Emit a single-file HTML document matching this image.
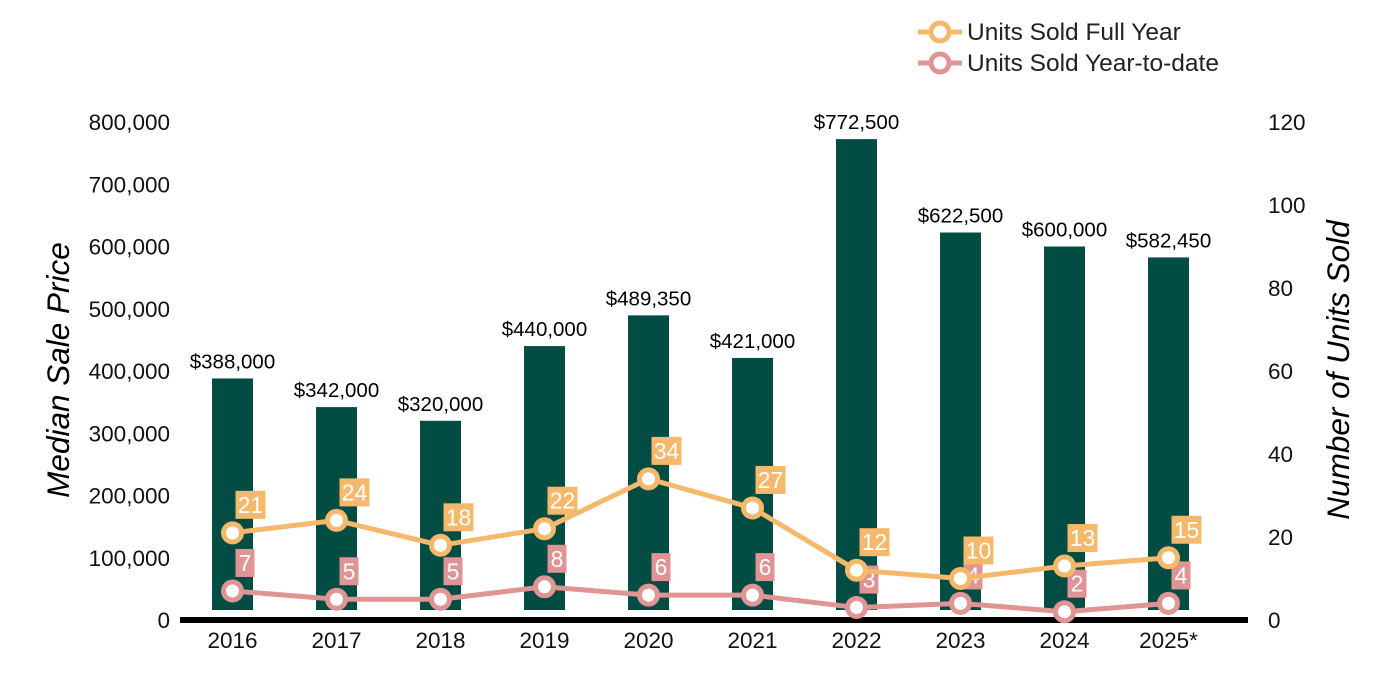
<!DOCTYPE html>
<html><head><meta charset="utf-8"><style>
html,body{margin:0;padding:0;background:#fff;}
svg{display:block;font-family:"Liberation Sans",Arial,sans-serif;}
</style></head><body>
<svg id="chart" width="1400" height="700" viewBox="0 0 1400 700" xmlns="http://www.w3.org/2000/svg">
<g id="legend">
  <g>
    <line x1="918" y1="32" x2="962" y2="32" stroke="#F6B86B" stroke-width="5"/>
    <circle cx="940" cy="32" r="9" fill="#fff" stroke="#F6B86B" stroke-width="5"/>
    <text x="967" y="40" font-size="24.5" fill="#222">Units Sold Full Year</text>
  </g>
  <g>
    <line x1="918" y1="63" x2="962" y2="63" stroke="#E09494" stroke-width="5"/>
    <circle cx="940" cy="63" r="9" fill="#fff" stroke="#E09494" stroke-width="5"/>
    <text x="967" y="71" font-size="24.5" fill="#222">Units Sold Year-to-date</text>
  </g>
</g>
<text transform="translate(69,370) rotate(-90)" text-anchor="middle" font-size="31.5" font-style="italic" fill="#000">Median Sale Price</text>
<text transform="translate(1349,370) rotate(-90)" text-anchor="middle" font-size="31.5" font-style="italic" fill="#000">Number of Units Sold</text>
<g id="left-ticks"></g>
<g id="right-ticks"></g>
<g id="bars"></g>
<line x1="180" y1="620" x2="1248" y2="620" stroke="#000" stroke-width="6"/>
<g id="xlabels"></g>
<g id="lines"></g>
</svg>
<script>
const years = ["2016","2017","2018","2019","2020","2021","2022","2023","2024","2025*"];
const prices = [388000,342000,320000,440000,489350,421000,772500,622500,600000,582450];
const fullYear = [21,24,18,22,34,27,12,10,13,15];
const ytd = [7,5,5,8,6,6,3,4,2,4];
const leftTicks = [0,100000,200000,300000,400000,500000,600000,700000,800000];
const rightTicks = [0,20,40,60,80,100,120];

const NS="http://www.w3.org/2000/svg";
const y0=620, yTop=122;
const yL=v=>y0-(v/800000)*(y0-yTop);
const yR=v=>y0-(v/120)*(y0-yTop);
const xC=i=>232.5+i*104;
function mk(tag,attrs,parent,text){const e=document.createElementNS(NS,tag);for(const k in attrs)e.setAttribute(k,attrs[k]);if(text!==undefined)e.textContent=text;parent.appendChild(e);return e;}
const fmt=n=>n.toLocaleString("en-US");

const lt=document.getElementById("left-ticks");
leftTicks.forEach(v=>{const t=mk("text",{x:170,y:yL(v)+8,"text-anchor":"end","font-size":22.5,fill:"#111"},lt,fmt(v));

});
const rt=document.getElementById("right-ticks");
rightTicks.forEach(v=>{const t=mk("text",{x:1268,y:yR(v)+8,"font-size":22.5,fill:"#111"},rt,String(v));

});

const bg=document.getElementById("bars");
prices.forEach((p,i)=>{
  const r=mk("rect",{x:xC(i)-20.5,y:yL(p),width:41,height:610-yL(p),fill:"#014D44"},bg);
  
  
  const t=mk("text",{x:xC(i),y:yL(p)-10,"text-anchor":"middle","font-size":20.5,fill:"#000"},bg,"$"+fmt(p));
  
  
});
const xl=document.getElementById("xlabels");
years.forEach((y,i)=>{const t=mk("text",{x:xC(i),y:648,"text-anchor":"middle","font-size":22.5,fill:"#111"},xl,y);

});

const lg=document.getElementById("lines");
function series(vals,color,name){
  const g=mk("g",{},lg);
  
  
  mk("polyline",{points:vals.map((v,i)=>xC(i)+","+yR(v)).join(" "),fill:"none",stroke:color,"stroke-width":5,"stroke-linejoin":"round"},g);
  vals.forEach((v,i)=>{
    const c=mk("circle",{cx:xC(i),cy:yR(v),r:9,fill:"#fff",stroke:color,"stroke-width":5},g);
    
    
  });
  vals.forEach((v,i)=>{
    const s=String(v), w=s.length>1?30:19;
    const bx=xC(i)+3, by=yR(v)-42;
    const r=mk("rect",{x:bx,y:by,width:w,height:28,fill:color},g);
    
    
    const t=mk("text",{x:bx+w/2,y:by+22,"text-anchor":"middle","font-size":23,fill:"#fff"},g,s);
    
    
  });
}
series(ytd,"#E09494","ytd-series");
series(fullYear,"#F6B86B","full-year-series");
</script>
</body></html>
